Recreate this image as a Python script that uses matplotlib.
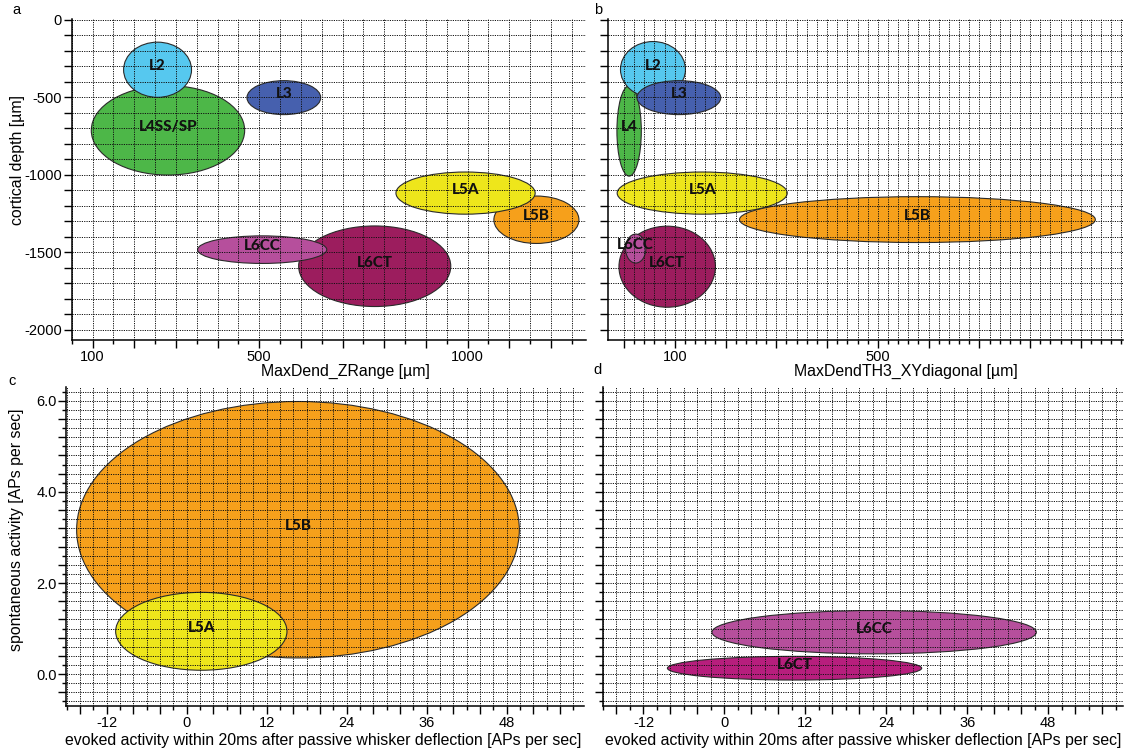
import matplotlib
matplotlib.use("Agg")
import matplotlib.pyplot as plt
from matplotlib.patches import Ellipse
import numpy as np

W, H, DPI = 1128, 752, 100

# ---- colours per cell type ----
COLORS = {
    "L2": "#56c8ef",
    "L3": "#4660ae",
    "L4": "#4db748",
    "L4SS/SP": "#4db748",
    "L5A": "#eee61b",
    "L5B": "#f6a01b",
    "L6CC": "#b64f9c",
    "L6CT": "#9c1d5e",
}
COLOR_L6CT_ACT = "#b71e7d"

# ---- panel a: dendrite z-range vs cortical depth (centre, full width/height) ----
a_types = ["L4SS/SP", "L2", "L3", "L5B", "L5A", "L6CT", "L6CC"]
a_x = [281, 256, 559, 1165, 995, 777, 507]
a_y = [-712, -321, -501, -1289, -1117, -1589, -1482]
a_w = [368, 163, 177, 204, 334, 365, 310]
a_h = [577, 356, 219, 306, 272, 520, 178]

# ---- panel b: XY diagonal vs cortical depth ----
b_types = ["L4", "L2", "L3", "L5B", "L5A", "L6CT", "L6CC"]
b_x = [10, 57, 108, 578, 154, 85, 23]
b_y = [-716, -319, -501, -1288, -1117, -1592, -1475]
b_w = [48, 128, 165, 701, 335, 190, 40]
b_h = [583, 360, 219, 296, 272, 523, 187]

# ---- panel c: evoked vs spontaneous activity, L5 ----
c_types = ["L5B", "L5A"]
c_x = [16.7, 2.2]
c_y = [3.17, 0.94]
c_w = [66.4, 25.7]
c_h = [5.63, 1.71]

# ---- panel d: evoked vs spontaneous activity, L6 ----
d_types = ["L6CC", "L6CT"]
d_x = [22.2, 10.4]
d_y = [0.92, 0.13]
d_w = [48.1, 37.7]
d_h = [0.95, 0.52]

# ---- tick layout ----
depth_ticks = np.arange(0, -2001, -100)
depth_labels = [0, -500, -1000, -1500, -2000]
zr_major = np.arange(100, 1201, 100)
zr_minor = np.arange(50, 1251, 50)
zr_labels = [100, 500, 1000]
xy_major = np.arange(0, 901, 100)
xy_minor = np.arange(0, 981, 20)
xy_labels = [100, 500]
ev_major = np.arange(-16, 57, 4)
ev_minor = np.arange(-18, 60, 2)
ev_labels = [-12, 0, 12, 24, 36, 48]
sp_major = np.round(np.arange(-0.4, 6.21, 0.4), 1)
sp_minor = np.round(np.arange(-0.6, 6.21, 0.2), 1)
sp_labels = [0.0, 2.0, 4.0, 6.0]

AX_FONT = ["Liberation Sans", "DejaVu Sans"]
LBL_FONT = ["Lato", "DejaVu Sans"]
plt.rcParams["font.family"] = AX_FONT
plt.rcParams["axes.axisbelow"] = "line"

fig = plt.figure(figsize=(W / DPI, H / DPI), dpi=DPI)


def px_axes(left, top, right, bottom):
    return fig.add_axes([left / W, 1 - bottom / H, (right - left) / W, (bottom - top) / H])


def fig_text(x, y, s, **kw):
    fig.text(x / W, 1 - y / H, s, **kw)


def style(ax, xmaj, xmin, xlab, ymaj, ymin, ylab, fmt_x, fmt_y, show_y=True):
    for s in ("top", "right"):
        ax.spines[s].set_visible(False)
    for s in ("left", "bottom"):
        ax.spines[s].set_linewidth(1.1)
    ax.set_xticks(xmaj)
    ax.set_xticklabels([fmt_x(v) if np.isclose(xlab, v).any() else "" for v in xmaj])
    ax.set_xticks(xmin, minor=True)
    ax.set_yticks(ymaj)
    if show_y:
        ax.set_yticklabels([fmt_y(v) if np.isclose(ylab, v).any() else "" for v in ymaj])
    else:
        ax.set_yticklabels([])
    if ymin is not None:
        ax.set_yticks(ymin, minor=True)
    ax.tick_params(which="major", direction="out", length=5.5, width=1.0,
                   labelsize=10.5, pad=1.5)
    ax.tick_params(which="minor", direction="out", length=3.2, width=1.0)
    ax.grid(True, which="both", linestyle=(0, (1.2, 1.2)), linewidth=0.7, color="#111111")


def draw(ax, types, xs, ys, ws, hs, colors=None):
    for i, t in enumerate(types):
        col = colors[i] if colors else COLORS[t]
        ax.add_patch(Ellipse((xs[i], ys[i]), ws[i], hs[i], facecolor=col,
                             edgecolor="#2a2a2a", linewidth=0.8, zorder=1))
        ax.annotate(t, (xs[i], ys[i]), xytext=(0, 2.5), textcoords="offset points",
                    ha="center", va="center", fontsize=11, fontweight="black",
                    family=LBL_FONT, color="#111111", zorder=3)


int_fmt = lambda v: f"{int(round(v))}"
one_dec = lambda v: f"{v:.1f}"

# panel a
ax_a = px_axes(71.7, 19.3, 586, 340)
draw(ax_a, a_types, a_x, a_y, a_w, a_h)
ax_a.set_xlim(79, 1284)
ax_a.set_ylim(-2065, 4.5)
style(ax_a, zr_major, zr_minor, zr_labels, depth_ticks, None, depth_labels, int_fmt, int_fmt)

# panel b
ax_b = px_axes(608.3, 19.3, 1123, 340)
draw(ax_b, b_types, b_x, b_y, b_w, b_h)
ax_b.set_xlim(-31, 983)
ax_b.set_ylim(-2065, 4.5)
style(ax_b, xy_major, xy_minor, xy_labels, depth_ticks, None, depth_labels, int_fmt, int_fmt,
      show_y=False)

# panel c
ax_c = px_axes(66.3, 386.7, 584, 706)
draw(ax_c, c_types, c_x, c_y, c_w, c_h)
ax_c.set_xlim(-18.05, 59.6)
ax_c.set_ylim(-0.70, 6.31)
style(ax_c, ev_major, ev_minor, ev_labels, sp_major, sp_minor, sp_labels, int_fmt, one_dec)

# panel d
ax_d = px_axes(603, 386.7, 1123, 706)
draw(ax_d, d_types, d_x, d_y, d_w, d_h, colors=[COLORS["L6CC"], COLOR_L6CT_ACT])
ax_d.set_xlim(-17.8, 59.1)
ax_d.set_ylim(-0.70, 6.31)
style(ax_d, ev_major, ev_minor, ev_labels, sp_major, sp_minor, sp_labels, int_fmt, one_dec,
      show_y=False)

# axis titles
kw = dict(fontsize=11.4, family=AX_FONT, ha="center", va="center")
fig_text(345, 371, "MaxDend_ZRange [µm]", **kw)
fig_text(906, 371, "MaxDendTH3_XYdiagonal [µm]", **kw)
fig_text(323.5, 740, "evoked activity within 20ms after passive whisker deflection [APs per sec]", **kw)
fig_text(863, 740, "evoked activity within 20ms after passive whisker deflection [APs per sec]", **kw)
fig_text(18, 160, "cortical depth [µm]", rotation=90, **kw)
fig_text(17, 530, "spontaneous activity [APs per sec]", rotation=90, **kw)

# panel letters
lkw = dict(fontsize=10.5, family=AX_FONT, ha="center", va="center")
fig_text(16, 10, "a", **lkw)
fig_text(598, 10, "b", **lkw)
fig_text(12, 381, "c", **lkw)
fig_text(598, 370, "d", **lkw)

fig.savefig("out.png", dpi=DPI)
